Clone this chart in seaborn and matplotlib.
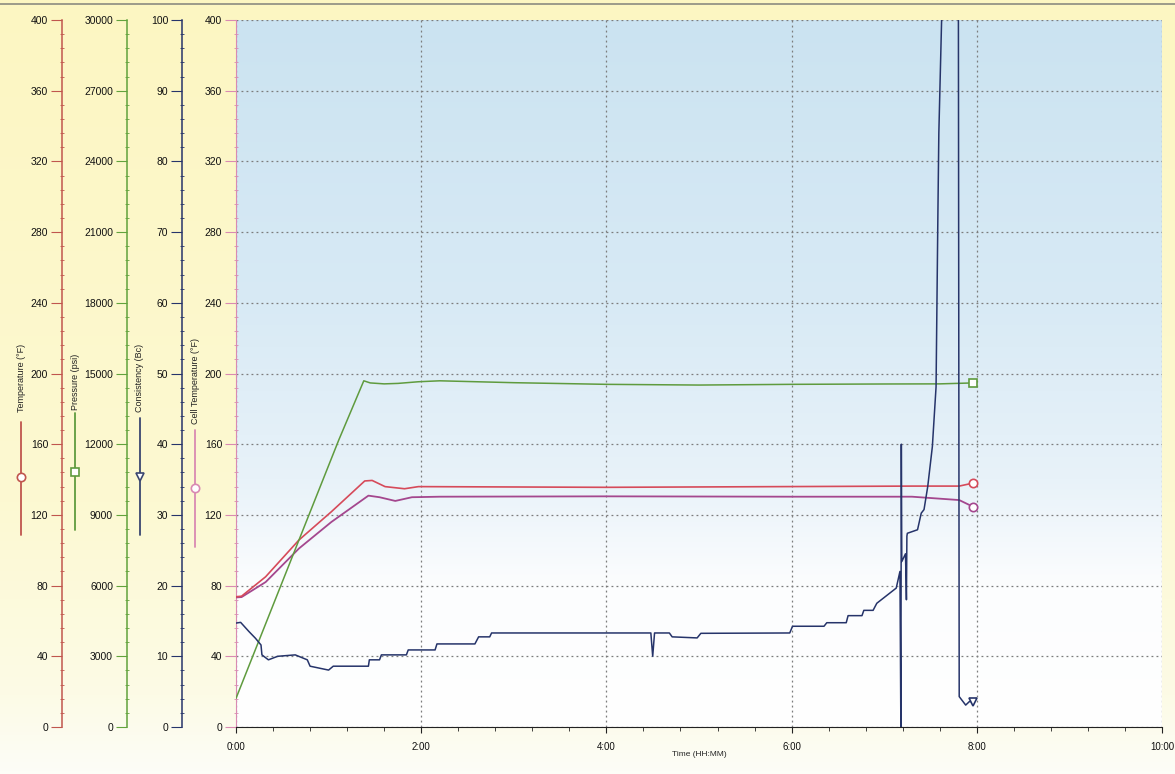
import matplotlib
matplotlib.use('Agg')
import matplotlib.pyplot as plt
import matplotlib.ticker as mticker
from matplotlib.colors import LinearSegmentedColormap
from matplotlib.lines import Line2D
import numpy as np
import seaborn as sns

# Values, time in hours
temp_time = [0.0, 0.06, 0.32, 0.68, 1.03, 1.39, 1.47, 1.61, 1.82, 1.97, 4.0, 7.31, 7.81, 7.96]
temp_vals = [73.7, 74.0, 85.0, 105.8, 121.8, 139.2, 139.5, 136.0, 134.8, 136.0, 135.6, 136.3, 136.3, 138.0]

cell_time = [0.0, 0.06, 0.32, 0.68, 1.03, 1.43, 1.55, 1.72, 1.90, 2.2, 4.0, 6.0, 7.3, 7.81, 7.96]
cell_vals = [73.3, 73.5, 82.0, 101.0, 116.0, 130.9, 130.0, 127.9, 130.0, 130.3, 130.5, 130.3, 130.3, 128.4, 124.6]

press_time = [0.0, 0.68, 1.11, 1.38, 1.45, 1.6, 1.75, 1.97, 2.2, 3.0, 4.0, 5.0, 6.0, 7.0, 7.6, 7.96]
press_vals = [1215, 7935, 12180, 14690, 14600, 14560, 14580, 14650, 14690, 14610, 14540, 14510,
              14540, 14555, 14560, 14600]

cons_time = [0.0, 0.05, 0.14, 0.21, 0.27, 0.28, 0.35, 0.45, 0.64, 0.77, 0.80, 1.0, 1.05, 1.43,
             1.44, 1.55, 1.57, 1.84, 1.86, 2.15, 2.17, 2.58, 2.62, 2.74, 2.76, 4.48, 4.50, 4.52,
             4.68, 4.71, 4.98, 5.02, 5.98, 6.01, 6.35, 6.38, 6.59, 6.61, 6.76, 6.78, 6.88, 6.92,
             7.13, 7.17, 7.18, 7.185, 7.19, 7.23, 7.24, 7.245, 7.25, 7.36, 7.40, 7.43, 7.47,
             7.52, 7.56, 7.58, 7.59, 7.62, 7.65, 7.80, 7.81, 7.88, 7.92, 7.96]
cons_vals = [14.7, 14.8, 13.5, 12.55, 11.6, 10.2, 9.5, 10.0, 10.2, 9.5, 8.6, 8.05, 8.6, 8.6,
             9.5, 9.5, 10.2, 10.2, 10.9, 10.9, 11.75, 11.75, 12.75, 12.75, 13.3, 13.3, 10.0, 13.3,
             13.3, 12.75, 12.6, 13.25, 13.3, 14.25, 14.25, 14.75, 14.75, 15.75, 15.75, 16.5, 16.5, 17.5,
             19.65, 22.0, 0.0, 40.0, 23.4, 24.5, 18.0, 27.0, 27.4, 27.9, 30.25, 30.75, 34.0,
             39.65, 48.1, 72.7, 84.0, 100.0, 115.0, 115.0, 4.3, 3.1, 3.6, 3.6]

x_ticks = [0, 2, 4, 6, 8, 10]
x_tick_labels = ['0:00', '2:00', '4:00', '6:00', '8:00', '10:00']

RED = '#d64a5a'
MAGENTA = '#a4478e'
GREEN = '#5f9b3e'
NAVY = '#26346a'

sns.set_style('ticks')
plt.rcParams['font.family'] = ['Liberation Sans', 'DejaVu Sans']

W, H = 1175, 774
fig = plt.figure(figsize=(W / 100, H / 100), dpi=100)


def fx(px):
    return px / W


def fy(py):
    return 1 - py / H


# yellowish page background
bg = fig.add_axes([0, 0, 1, 1], zorder=-10)
page = LinearSegmentedColormap.from_list(
    'page', [(0, '#fdfdf7'), (0.1, '#fcfbe6'), (0.35, '#fcf9d2'), (1, '#fcf6c2')])
bg.imshow(np.linspace(0, 1, 256).reshape(-1, 1), origin='lower', aspect='auto',
          extent=[0, 1, 0, 1], cmap=page)
bg.set_axis_off()
fig.add_artist(Line2D([0, 1], [fy(4), fy(4)], transform=fig.transFigure, color='#8c8c80', lw=1.2))

# main axis = cell temperature
left, right = 236, 1162
ax = fig.add_axes([fx(left), fy(727), fx(right) - fx(left), fy(20) - fy(727)])
sky = LinearSegmentedColormap.from_list(
    'sky', [(0, '#ffffff'), (0.2, '#fcfdfe'), (0.35, '#e8f2f9'), (0.6, '#d8eaf5'), (1, '#cbe3f1')])
ax.imshow(np.linspace(0, 1, 256).reshape(-1, 1), origin='lower', aspect='auto',
          extent=[0, 1, 0, 1], cmap=sky, transform=ax.transAxes, zorder=0)
ax.set_xlim(0, 10)
ax.set_ylim(0, 400)
ax.grid(True, which='major', color='#7c7c7c', ls=(0, (1.5, 2.5)), lw=0.9)
for s in ['top', 'right']:
    ax.spines[s].set_visible(False)
ax.spines['left'].set_color('#d98ab2')
ax.spines['bottom'].set_color('#222222')
ax.set_xticks(x_ticks)
ax.set_xticklabels(x_tick_labels)
ax.xaxis.set_minor_locator(mticker.MultipleLocator(0.4))
ax.yaxis.set_major_locator(mticker.MultipleLocator(40))
ax.yaxis.set_minor_locator(mticker.MultipleLocator(8))
ax.tick_params(axis='x', which='major', length=4, color='#222222', labelsize=7, pad=7,
               labelcolor='#111111')
ax.tick_params(axis='x', which='minor', length=3, color='#222222')
ax.tick_params(axis='y', which='major', length=8, color='#d98ab2', labelsize=7.5, pad=2,
               labelcolor='#111111')
ax.tick_params(axis='y', which='minor', length=3, direction='inout', color='#d98ab2')
ax.set_xlabel('Time (HH:MM)', fontsize=6, labelpad=-1)

width_px = right - left


def side_axis(spine_px, color, top, major, minor):
    a = ax.twinx()
    a.spines['left'].set_position(('axes', (spine_px - left) / width_px))
    for s in ['right', 'top', 'bottom']:
        a.spines[s].set_visible(False)
    a.spines['left'].set_visible(True)
    a.spines['left'].set_color(color)
    a.spines['left'].set_linewidth(1.1)
    a.yaxis.set_ticks_position('left')
    a.yaxis.set_label_position('left')
    a.set_ylim(0, top)
    a.yaxis.set_major_locator(mticker.MultipleLocator(major))
    a.yaxis.set_minor_locator(mticker.MultipleLocator(minor))
    a.tick_params(axis='y', which='major', length=8, color=color, labelsize=7.5, pad=2,
                  labelcolor='#111111')
    a.tick_params(axis='y', which='minor', length=3, direction='inout', color=color)
    return a


ax_temp = side_axis(62, '#c0564e', 400, 40, 8)
ax_press = side_axis(127, '#62a23c', 30000, 3000, 600)
ax_cons = side_axis(182, NAVY, 100, 10, 2)

sns.lineplot(x=cell_time, y=cell_vals, ax=ax, color=MAGENTA, lw=1.3, estimator=None, sort=False, zorder=3)
sns.lineplot(x=temp_time, y=temp_vals, ax=ax_temp, color=RED, lw=1.2, estimator=None, sort=False)
sns.lineplot(x=press_time, y=press_vals, ax=ax_press, color=GREEN, lw=1.1, estimator=None, sort=False)
sns.lineplot(x=cons_time, y=cons_vals, ax=ax_cons, color=NAVY, lw=1.1, estimator=None, sort=False)
for a in [ax, ax_temp, ax_press, ax_cons]:
    a.set_ylabel('')

ax.plot(cell_time[-1], cell_vals[-1], marker='o', ms=6, mfc='white', mec=MAGENTA, mew=1.2, zorder=4)
ax_temp.plot(temp_time[-1], temp_vals[-1], marker='o', ms=6, mfc='white', mec=RED, mew=1.2)
ax_press.plot(press_time[-1], press_vals[-1], marker='s', ms=6, mfc='white', mec=GREEN, mew=1.2)
ax_cons.plot(cons_time[-1], cons_vals[-1], marker='v', ms=6, mfc='white', mec=NAVY, mew=1.2)

# axis titles with their legend glyphs
titles = [('Temperature (°F)', 21, 412, 422, 535, 477, 'o', '#c0564e'),
          ('Pressure (psi)', 75, 410, 413, 530, 472, 's', GREEN),
          ('Consistency (Bc)', 140, 412, 418, 535, 477, 'v', '#3a4670'),
          ('Cell Temperature (°F)', 195, 424, 430, 547, 488, 'o', '#d98ab2')]
for text, x, ty, y0, y1, ym, mk, col in titles:
    fig.text(fx(x), fy(ty), text, rotation=90, ha='center', va='bottom', fontsize=6.5, color='#222222')
    fig.add_artist(Line2D([fx(x), fx(x)], [fy(y0), fy(y1)], transform=fig.transFigure, color=col, lw=1.3))
    fig.add_artist(Line2D([fx(x)], [fy(ym)], transform=fig.transFigure, marker=mk, ms=6,
                          mfc='white', mec=col, mew=1.2))

fig.savefig('out.png', dpi=100)
